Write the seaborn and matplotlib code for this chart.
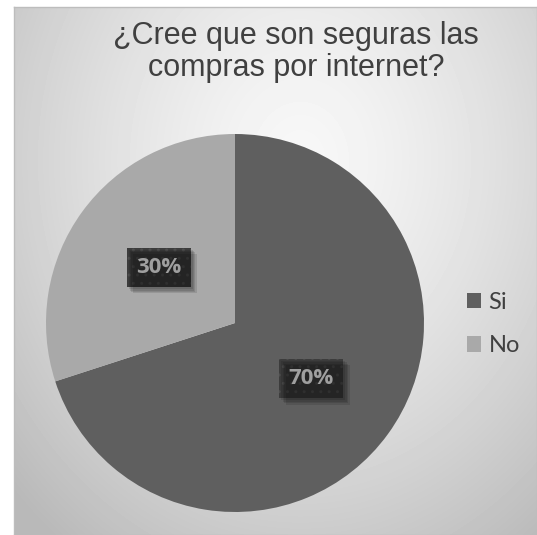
import numpy as np
import matplotlib
matplotlib.use("Agg")
import matplotlib.pyplot as plt
from matplotlib.patches import Rectangle
import seaborn as sns

# Survey answers
categories = ["Si", "No"]
shares = [70, 30]
title_text = "¿Cree que son seguras las\ncompras por internet?"

sns.set_style("white")
plt.rcParams["font.family"] = ["Lato", "DejaVu Sans"]

colors = ["#5f5f5f", "#a9a9a9"]

W, H = 537, 535
fig = plt.figure(figsize=(W / 100, H / 100), dpi=100)
fig.patch.set_facecolor("white")

# Chart panel with a soft radial gradient
px0, py0 = 14, 7
bg = fig.add_axes([px0 / W, 0, 1 - px0 / W, 1 - py0 / H])
gw, gh = W - px0, H - py0
yy, xx = np.mgrid[0:gh, 0:gw]
cx, cy = 300 - px0, 160 - py0
d = np.sqrt(((xx - cx) / 330.0) ** 2 + ((yy - cy) / 400.0) ** 2)
val = 0.97 - 0.19 * np.clip(d, 0, 1.2) ** 1.4
bg.imshow(val, cmap="gray", vmin=0, vmax=1, aspect="auto",
          interpolation="bilinear", extent=[0, gw, gh, 0])
bg.set_xticks([])
bg.set_yticks([])
for s in bg.spines.values():
    s.set_color("#bdbdbd")
    s.set_linewidth(1.0)

# Title
fig.text(296 / W, 1 - 52 / H, title_text, ha="center", va="center",
         fontsize=22, color="#404040", family=["Liberation Sans", "DejaVu Sans"],
         linespacing=1.1)

# Pie
cxp, cyp, r = 235, 323, 189
ax = fig.add_axes([(cxp - r) / W, (H - cyp - r) / H, 2 * r / W, 2 * r / H])
ax.set_facecolor("none")
wedges, texts, autotexts = ax.pie(
    shares, colors=colors, startangle=90, counterclock=False,
    autopct="%1.0f%%", pctdistance=0.5, radius=1.0,
    wedgeprops=dict(linewidth=0),
    textprops=dict(color="white", fontsize=16, fontweight="bold",
                   family=["Open Sans", "DejaVu Sans"]),
)
ax.set_xlim(-1, 1)
ax.set_ylim(-1, 1)
ax.axis("off")

for t in autotexts:
    t.set_zorder(5)
    t.set_bbox(dict(boxstyle="square,pad=0.42", fc="#3c3c3c", ec="#4d4d4d",
                    lw=0, hatch=".."))

# Legend
leg = fig.legend(wedges, categories, loc="center left",
                 bbox_to_anchor=(455 / W, 1 - 324 / H), frameon=False,
                 fontsize=17, handlelength=0.62, handleheight=0.62,
                 handletextpad=0.3, labelspacing=0.95, borderpad=0)
for t in leg.get_texts():
    t.set_color("#404040")

# Soft drop shadow under each label box, placed from the rendered box extent
fig.canvas.draw()
for t in autotexts:
    bb = t.get_bbox_patch().get_window_extent()
    for k in range(4):
        o = 2 + 1.4 * k
        fig.patches.append(Rectangle((bb.x0 + o, bb.y0 - o), bb.width, bb.height,
                                     transform=None, fc="black", ec="none",
                                     alpha=0.11, zorder=1.5, figure=fig))

fig.savefig("out.png", dpi=100)
